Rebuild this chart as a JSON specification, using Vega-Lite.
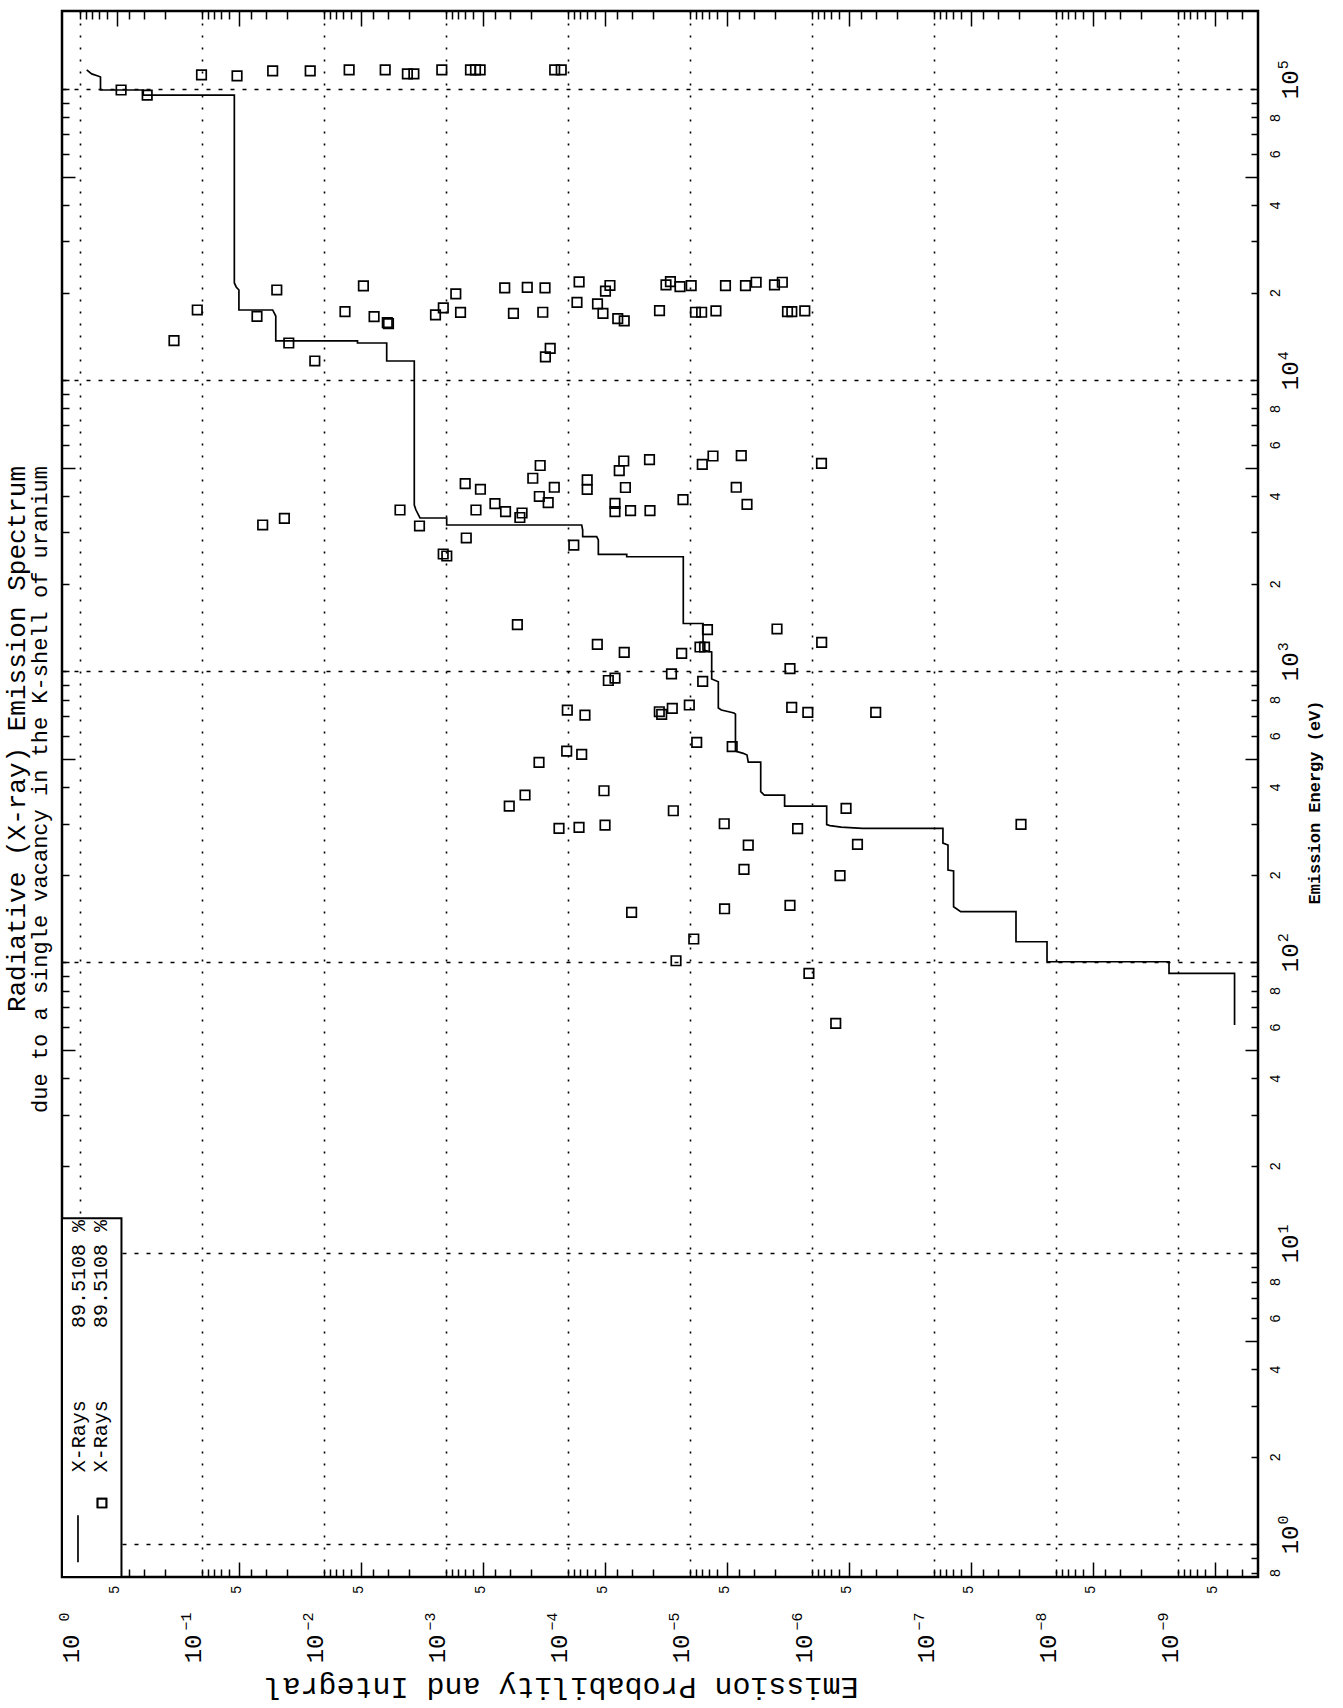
{
  "$schema": "https://vega.github.io/schema/vega-lite/v6.json",
  "autosize": {"type": "none"},
  "width": 1196,
  "height": 1566,
  "padding": {"left": 62, "top": 11, "right": 85, "bottom": 131},
  "background": "white",
  "title": {
    "text": "Radiative (X-ray) Emission Spectrum",
    "subtitle": "due to a single vacancy in the K-shell of uranium",
    "orient": "left",
    "anchor": "middle",
    "align": "right",
    "dx": 328,
    "font": "Liberation Mono",
    "fontSize": 26,
    "fontWeight": "normal",
    "color": "black",
    "subtitleFont": "Liberation Mono",
    "subtitleFontSize": 22,
    "subtitleColor": "black",
    "subtitlePadding": 0,
    "offset": 6
  },
  "config": {
    "view": {"stroke": "black", "strokeWidth": 2.5},
    "axis": {
      "labelFont": "Liberation Mono",
      "titleFont": "Liberation Mono",
      "labelColor": "black",
      "titleColor": "black",
      "tickColor": "black",
      "gridColor": "black",
      "labelFlush": false,
      "labelOverlap": false,
      "labelBound": false
    },
    "text": {"font": "Liberation Mono"}
  },
  "datasets": {
    "line": [
      {"i":1,"p":0.881,"E":116500},{"i":2,"p":0.802,"E":112900},{"i":3,"p":0.712,"E":111100},{"i":4,"p":0.679,"E":110200},
      {"i":5,"p":0.679,"E":99400},{"i":6,"p":0.3029,"E":99400},{"i":7,"p":0.3029,"E":95500},{"i":8,"p":0.0543,"E":95500},
      {"i":9,"p":0.0543,"E":21600},{"i":10,"p":0.0524,"E":20920},{"i":11,"p":0.0498,"E":20430},{"i":12,"p":0.0498,"E":17440},
      {"i":13,"p":0.02634,"E":17440},{"i":14,"p":0.02484,"E":16630},{"i":15,"p":0.02484,"E":13650},{"i":16,"p":0.005314,"E":13650},
      {"i":17,"p":0.005314,"E":13430},{"i":18,"p":0.003062,"E":13430},{"i":19,"p":0.003062,"E":11650},{"i":20,"p":0.001819,"E":11650},
      {"i":21,"p":0.001819,"E":3728},{"i":22,"p":0.001762,"E":3583},{"i":23,"p":0.001633,"E":3364},{"i":24,"p":0.000987,"E":3364},
      {"i":25,"p":0.000987,"E":3183},{"i":26,"p":7.72e-5,"E":3183},{"i":27,"p":7.58e-5,"E":3059},{"i":28,"p":7.58e-5,"E":2901},
      {"i":29,"p":5.82e-5,"E":2901},{"i":30,"p":5.64e-5,"E":2827},{"i":31,"p":5.64e-5,"E":2524},{"i":32,"p":3.30e-5,"E":2524},
      {"i":33,"p":3.30e-5,"E":2476},{"i":34,"p":1.135e-5,"E":2476},{"i":35,"p":1.135e-5,"E":1460},{"i":36,"p":7.82e-6,"E":1460},
      {"i":37,"p":7.82e-6,"E":1184},{"i":38,"p":6.86e-6,"E":1168},{"i":39,"p":6.64e-6,"E":1165},{"i":40,"p":6.64e-6,"E":941},
      {"i":41,"p":5.86e-6,"E":921},{"i":42,"p":5.86e-6,"E":748},{"i":43,"p":5.53e-6,"E":736},{"i":44,"p":4.36e-6,"E":719},
      {"i":45,"p":4.24e-6,"E":713},{"i":46,"p":4.24e-6,"E":532},{"i":47,"p":3.66e-6,"E":522.7},{"i":48,"p":3.41e-6,"E":515.8},
      {"i":49,"p":3.33e-6,"E":487.9},{"i":50,"p":2.633e-6,"E":487.9},{"i":51,"p":2.633e-6,"E":385.8},{"i":52,"p":2.46e-6,"E":375.8},
      {"i":53,"p":1.677e-6,"E":375.8},{"i":54,"p":1.677e-6,"E":344.4},{"i":55,"p":7.58e-7,"E":344.4},{"i":56,"p":7.58e-7,"E":297.5},
      {"i":57,"p":7.12e-7,"E":295.2},{"i":58,"p":5.78e-7,"E":291.6},{"i":59,"p":3.855e-7,"E":288.7},{"i":60,"p":8.45e-8,"E":288.7},
      {"i":61,"p":8.45e-8,"E":257},{"i":62,"p":7.68e-8,"E":253},{"i":63,"p":7.68e-8,"E":207.6},{"i":64,"p":6.91e-8,"E":206},
      {"i":65,"p":6.91e-8,"E":155.3},{"i":66,"p":6.04e-8,"E":149.3},{"i":67,"p":2.128e-8,"E":149.3},{"i":68,"p":2.128e-8,"E":117.7},
      {"i":69,"p":1.185e-8,"E":117.7},{"i":70,"p":1.185e-8,"E":100.5},{"i":71,"p":1.185e-9,"E":100.5},{"i":72,"p":1.185e-9,"E":91.7},
      {"i":73,"p":3.44e-10,"E":91.7},{"i":74,"p":3.44e-10,"E":60.9}
    ],
    "pts": [
      {"p":0.4603,"E":99400},{"p":0.2813,"E":95500},{"p":0.1009,"E":112000},{"p":0.0516,"E":111100},{"p":0.02634,"E":115600},
      {"p":0.01297,"E":115600},{"p":0.00622,"E":116500},{"p":0.00315,"E":116500},{"p":0.002072,"E":112900},{"p":0.001833,"E":112900},
      {"p":0.001082,"E":116500},{"p":0.000630,"E":116500},{"p":0.000573,"E":116500},{"p":0.000525,"E":116500},{"p":0.0001285,"E":116500},
      {"p":0.0001136,"E":116500},
      {"p":0.1696,"E":13680},{"p":0.1093,"E":17440},{"p":0.02437,"E":20430},{"p":0.03541,"E":16570},{"p":0.01943,"E":13430},
      {"p":0.01189,"E":11650},{"p":0.004753,"E":21090},{"p":0.006728,"E":17210},{"p":0.003885,"E":16550},{"p":0.003028,"E":15770},
      {"p":0.00296,"E":15650},{"p":0.000831,"E":19800},{"p":0.001219,"E":16770},{"p":0.001052,"E":17720},{"p":0.00076,"E":17100},
      {"p":0.00033,"E":20760},{"p":0.0002157,"E":20870},{"p":0.0001543,"E":20760},{"p":0.00028,"E":16990},{"p":0.0001609,"E":17130},
      {"p":0.0001399,"E":12880},{"p":0.0001532,"E":12030},{"p":8.11e-5,"E":21770},{"p":8.44e-5,"E":18510},{"p":4.53e-5,"E":21170},
      {"p":4.93e-5,"E":20240},{"p":5.73e-5,"E":18290},{"p":5.17e-5,"E":16990},{"p":3.91e-5,"E":16280},{"p":3.46e-5,"E":15990},
      {"p":1.447e-5,"E":21820},{"p":1.573e-5,"E":21260},{"p":1.208e-5,"E":20970},{"p":9.78e-6,"E":21140},{"p":1.778e-5,"E":17350},
      {"p":9.02e-6,"E":17130},{"p":8.03e-6,"E":17130},{"p":6.13e-6,"E":17310},{"p":5.12e-6,"E":21140},{"p":3.51e-6,"E":21140},
      {"p":2.87e-6,"E":21720},{"p":2.03e-6,"E":21260},{"p":1.751e-6,"E":21720},{"p":1.588e-6,"E":17210},{"p":1.464e-6,"E":17210},
      {"p":1.146e-6,"E":17310},
      {"p":0.0318,"E":3183},{"p":0.02112,"E":3356},{"p":0.002382,"E":3583},{"p":0.001649,"E":3158},{"p":0.000696,"E":4414},
      {"p":0.000522,"E":4222},{"p":0.000568,"E":3583},{"p":0.000397,"E":3766},{"p":0.000325,"E":3536},{"p":0.000238,"E":3499},
      {"p":0.000248,"E":3377},{"p":0.000682,"E":2872},{"p":0.001054,"E":2530},{"p":0.000985,"E":2490},{"p":0.000169,"E":5096},
      {"p":0.0001943,"E":4606},{"p":0.0001295,"E":4289},{"p":0.0001718,"E":3988},{"p":0.0001453,"E":3797},{"p":8.96e-5,"E":2716},
      {"p":3.49e-5,"E":5281},{"p":3.80e-5,"E":4890},{"p":2.148e-5,"E":5335},{"p":6.96e-5,"E":4545},{"p":6.96e-5,"E":4215},
      {"p":3.385e-5,"E":4281},{"p":4.12e-5,"E":3779},{"p":4.12e-5,"E":3536},{"p":3.07e-5,"E":3568},{"p":2.128e-5,"E":3568},
      {"p":1.141e-5,"E":3890},{"p":6.48e-6,"E":5494},{"p":7.93e-6,"E":5144},{"p":3.80e-6,"E":5506},{"p":4.18e-6,"E":4289},
      {"p":3.41e-6,"E":3749},{"p":8.36e-7,"E":5185},
      {"p":0.00026,"E":1446},{"p":5.75e-5,"E":1238},{"p":3.46e-5,"E":1162},{"p":1.17e-5,"E":1153},{"p":7.19e-6,"E":1390},
      {"p":8.28e-6,"E":1212},{"p":7.60e-6,"E":1212},{"p":1.936e-6,"E":1398},{"p":8.33e-7,"E":1258},{"p":1.515e-6,"E":1021},
      {"p":1.418e-5,"E":980},{"p":4.67e-5,"E":930},{"p":4.12e-5,"E":948},{"p":7.87e-6,"E":923},{"p":0.0001013,"E":736},
      {"p":7.26e-5,"E":707.6},{"p":1.785e-5,"E":726.4},{"p":1.706e-5,"E":711.5},{"p":1.397e-5,"E":746},{"p":1.013e-5,"E":766},
      {"p":1.467e-6,"E":752},{"p":1.082e-6,"E":723},{"p":3.005e-7,"E":723},{"p":8.81e-6,"E":570},{"p":4.51e-6,"E":550.8},
      {"p":0.0001025,"E":532},{"p":7.72e-5,"E":518.5},{"p":0.0001728,"E":486.8},{"p":0.000225,"E":375.8},{"p":0.000303,"E":344.4},
      {"p":5.07e-5,"E":388.8},{"p":1.370e-5,"E":331.9},{"p":0.0001185,"E":288.7},{"p":8.12e-5,"E":291},{"p":4.97e-5,"E":296.3},
      {"p":5.24e-6,"E":299.4},{"p":1.312e-6,"E":288.3},{"p":5.26e-7,"E":338.2},{"p":4.24e-7,"E":254.4},{"p":3.33e-6,"E":253},
      {"p":3.61e-6,"E":208.7},{"p":5.89e-7,"E":198.5},{"p":3.01e-5,"E":148.5},{"p":5.21e-6,"E":152.8},{"p":1.515e-6,"E":157},
      {"p":1.936e-8,"E":297.8},{"p":1.06e-6,"E":91.7},{"p":6.39e-7,"E":61.7},{"p":1.302e-5,"E":101.3},{"p":9.31e-6,"E":120.3}
    ],
    "legbox": [{"p": 1.404, "p2": 0.457, "E": 0.773, "E2": 13.22}],
    "legrule": [{"p": 1.0385, "E": 1.261, "E2": 0.869}],
    "legtext": [
      {"p": 1.019, "E": 1.772, "t": "X-Rays"},
      {"p": 1.019, "E": 5.54, "t": "89.5108 %"},
      {"p": 0.6666, "E": 1.772, "t": "X-Rays"},
      {"p": 0.6666, "E": 5.54, "t": "89.5108 %"}
    ],
    "legsym": [{"p": 0.6603, "E": 1.388}]
  },
  "resolve": {"axis": {"x": "independent", "y": "independent"}},
  "layer": [
    {
      "data": {"name": "line"},
      "mark": {"type": "line", "stroke": "black", "strokeWidth": 1.7},
      "encoding": {
        "x": {"field": "p", "type": "quantitative",
          "scale": {"type": "log", "domain": [2.21e-10, 1.404], "reverse": true, "nice": false},
          "axis": {"orient": "bottom", "values": [1, 0.1, 0.01, 0.001, 0.0001, 1e-5, 1e-6, 1e-7, 1e-8, 1e-9],
            "labelExpr": "'10'",
            "ticks": false, "domain": false, "grid": true, "gridDash": [2, 10], "gridWidth": 1.6, "gridOpacity": 1,
            "labelAngle": 270, "labelAlign": "right", "labelBaseline": "middle", "labelPadding": 57, "labelFontSize": 24, "labelOffset": -8,
            "title": "Emission Probability and Integral", "titleAngle": 180, "titleX": 499, "titleY": 109,
            "titleAlign": "center", "titleBaseline": "middle", "titleFontSize": 30, "titleFontWeight": "normal"}},
        "y": {"field": "E", "type": "quantitative",
          "scale": {"type": "log", "domain": [0.773, 185700], "nice": false},
          "axis": {"orient": "right", "values": [1, 10, 100, 1000, 10000, 100000],
            "labelExpr": "'10'",
            "ticks": false, "domain": false, "grid": true, "gridDash": [4, 8], "gridWidth": 1.6, "gridOpacity": 1,
            "labelAngle": 270, "labelAlign": "center", "labelBaseline": "middle", "labelPadding": 32, "labelFontSize": 24, "labelOffset": -5,
            "title": "Emission Energy (eV)", "titleAngle": 270, "titleX": 56, "titleY": 791,
            "titleAlign": "center", "titleBaseline": "middle", "titleFontSize": 17, "titleFontWeight": "bold"}},
        "order": {"field": "i", "type": "quantitative"}
      }
    },
    {
      "data": {"name": "pts"},
      "mark": {"type": "point", "shape": "square", "size": 90, "filled": false, "stroke": "black", "strokeWidth": 1.7, "opacity": 1},
      "encoding": {
        "x": {"field": "p", "type": "quantitative",
          "scale": {"type": "log", "domain": [2.21e-10, 1.404], "reverse": true, "nice": false},
          "axis": {"orient": "bottom", "values": [0.5, 0.05, 0.005, 0.0005, 5e-5, 5e-6, 5e-7, 5e-8, 5e-9, 5e-10],
            "labelExpr": "'5'", "ticks": false, "domain": false, "grid": false,
            "labelAngle": 270, "labelAlign": "right", "labelBaseline": "middle", "labelPadding": 8, "labelFontSize": 14, "labelOffset": -2, "title": null}},
        "y": {"field": "E", "type": "quantitative",
          "scale": {"type": "log", "domain": [0.773, 185700], "nice": false},
          "axis": {"orient": "right", "values": [0.8, 2, 4, 6, 8, 20, 40, 60, 80, 200, 400, 600, 800, 2000, 4000, 6000, 8000, 20000, 40000, 60000, 80000],
            "labelExpr": "datum.value < 1 ? '8' : substring(toString(datum.value), 0, 1)",
            "ticks": false, "domain": false, "grid": false,
            "labelAngle": 270, "labelAlign": "center", "labelBaseline": "middle", "labelPadding": 17, "labelFontSize": 14, "title": null}}
      }
    },
    {
      "data": {"name": "legbox"},
      "mark": {"type": "rect", "fill": "white", "stroke": "black", "strokeWidth": 2},
      "encoding": {
        "x": {"field": "p", "type": "quantitative",
          "scale": {"type": "log", "domain": [2.21e-10, 1.404], "reverse": true, "nice": false},
          "axis": {"orient": "bottom", "labels": false, "domain": false, "grid": false, "ticks": true, "tickSize": -8, "tickWidth": 1.5, "title": null,
            "values": [1,0.9,0.8,0.7,0.6,0.4,0.3,0.2,0.1,0.09,0.08,0.07,0.06,0.04,0.03,0.02,0.01,0.009,0.008,0.007,0.006,0.004,0.003,0.002,0.001,9e-4,8e-4,7e-4,6e-4,4e-4,3e-4,2e-4,1e-4,9e-5,8e-5,7e-5,6e-5,4e-5,3e-5,2e-5,1e-5,9e-6,8e-6,7e-6,6e-6,4e-6,3e-6,2e-6,1e-6,9e-7,8e-7,7e-7,6e-7,4e-7,3e-7,2e-7,1e-7,9e-8,8e-8,7e-8,6e-8,4e-8,3e-8,2e-8,1e-8,9e-9,8e-9,7e-9,6e-9,4e-9,3e-9,2e-9,1e-9,9e-10,8e-10,7e-10,6e-10,4e-10,3e-10]}},
        "x2": {"field": "p2"},
        "y": {"field": "E", "type": "quantitative",
          "scale": {"type": "log", "domain": [0.773, 185700], "nice": false},
          "axis": {"orient": "right", "labels": false, "domain": false, "grid": false, "ticks": true, "tickSize": -7, "tickWidth": 1.5, "title": null,
            "values": [0.8,0.9,1,2,3,4,6,7,8,9,10,20,30,40,60,70,80,90,100,200,300,400,600,700,800,900,1000,2000,3000,4000,6000,7000,8000,9000,10000,20000,30000,40000,60000,70000,80000,90000,100000]}},
        "y2": {"field": "E2"}
      }
    },
    {
      "data": {"name": "legrule"},
      "mark": {"type": "rule", "stroke": "black", "strokeWidth": 1.7},
      "encoding": {
        "x": {"field": "p", "type": "quantitative",
          "scale": {"type": "log", "domain": [2.21e-10, 1.404], "reverse": true, "nice": false},
          "axis": {"orient": "bottom", "labels": false, "domain": false, "grid": false, "ticks": true, "tickSize": -15, "tickWidth": 1.5, "title": null,
            "values": [0.5, 0.05, 0.005, 0.0005, 5e-5, 5e-6, 5e-7, 5e-8, 5e-9, 5e-10]}},
        "y": {"field": "E", "type": "quantitative",
          "scale": {"type": "log", "domain": [0.773, 185700], "nice": false},
          "axis": {"orient": "right", "labels": false, "domain": false, "grid": false, "ticks": true, "tickSize": -13, "tickWidth": 1.5, "title": null,
            "values": [5, 50, 500, 5000, 50000]}},
        "y2": {"field": "E2"}
      }
    },
    {
      "data": {"name": "legtext"},
      "mark": {"type": "text", "angle": 270, "align": "left", "baseline": "middle", "fontSize": 20, "font": "Liberation Mono", "color": "black"},
      "encoding": {
        "x": {"field": "p", "type": "quantitative",
          "scale": {"type": "log", "domain": [2.21e-10, 1.404], "reverse": true, "nice": false},
          "axis": {"orient": "top", "labels": false, "domain": false, "grid": false, "ticks": true, "tickSize": -8, "tickWidth": 1.5, "title": null,
            "values": [1,0.9,0.8,0.7,0.6,0.4,0.3,0.2,0.1,0.09,0.08,0.07,0.06,0.04,0.03,0.02,0.01,0.009,0.008,0.007,0.006,0.004,0.003,0.002,0.001,9e-4,8e-4,7e-4,6e-4,4e-4,3e-4,2e-4,1e-4,9e-5,8e-5,7e-5,6e-5,4e-5,3e-5,2e-5,1e-5,9e-6,8e-6,7e-6,6e-6,4e-6,3e-6,2e-6,1e-6,9e-7,8e-7,7e-7,6e-7,4e-7,3e-7,2e-7,1e-7,9e-8,8e-8,7e-8,6e-8,4e-8,3e-8,2e-8,1e-8,9e-9,8e-9,7e-9,6e-9,4e-9,3e-9,2e-9,1e-9,9e-10,8e-10,7e-10,6e-10,4e-10,3e-10]}},
        "y": {"field": "E", "type": "quantitative",
          "scale": {"type": "log", "domain": [0.773, 185700], "nice": false},
          "axis": {"orient": "left", "labels": false, "domain": false, "grid": false, "ticks": true, "tickSize": -7, "tickWidth": 1.5, "title": null,
            "values": [0.8,0.9,1,2,3,4,6,7,8,9,10,20,30,40,60,70,80,90,100,200,300,400,600,700,800,900,1000,2000,3000,4000,6000,7000,8000,9000,10000,20000,30000,40000,60000,70000,80000,90000,100000]}},
        "text": {"field": "t", "type": "nominal"}
      }
    },
    {
      "data": {"name": "legsym"},
      "mark": {"type": "point", "shape": "square", "size": 80, "filled": false, "stroke": "black", "strokeWidth": 1.7, "opacity": 1},
      "encoding": {
        "x": {"field": "p", "type": "quantitative",
          "scale": {"type": "log", "domain": [2.21e-10, 1.404], "reverse": true, "nice": false},
          "axis": {"orient": "top", "labels": false, "domain": false, "grid": false, "ticks": true, "tickSize": -15, "tickWidth": 1.5, "title": null,
            "values": [0.5, 0.05, 0.005, 0.0005, 5e-5, 5e-6, 5e-7, 5e-8, 5e-9, 5e-10]}},
        "y": {"field": "E", "type": "quantitative",
          "scale": {"type": "log", "domain": [0.773, 185700], "nice": false},
          "axis": {"orient": "left", "labels": false, "domain": false, "grid": false, "ticks": true, "tickSize": -13, "tickWidth": 1.5, "title": null,
            "values": [5, 50, 500, 5000, 50000]}}
      }
    },
    {
      "data": {"name": "legsym"},
      "mark": {"type": "point", "shape": "square", "size": 80, "filled": false, "stroke": "black", "strokeWidth": 1.7, "opacity": 1},
      "encoding": {
        "x": {"field": "p", "type": "quantitative",
          "scale": {"type": "log", "domain": [2.21e-10, 1.404], "reverse": true, "nice": false},
          "axis": {"orient": "bottom", "values": [1, 0.1, 0.01, 0.001, 0.0001, 1e-5, 1e-6, 1e-7, 1e-8, 1e-9],
            "labelExpr": "['0','−1','−2','−3','−4','−5','−6','−7','−8','−9'][round(-log(datum.value)/LN10)]",
            "ticks": false, "domain": false, "grid": false,
            "labelAngle": 270, "labelAlign": "right", "labelBaseline": "middle", "labelPadding": 35, "labelFontSize": 15, "labelOffset": -16, "title": null}},
        "y": {"field": "E", "type": "quantitative",
          "scale": {"type": "log", "domain": [0.773, 185700], "nice": false},
          "axis": {"orient": "right", "values": [1, 10, 100, 1000, 10000, 100000],
            "labelExpr": "['0','1','2','3','4','5'][round(log(datum.value)/LN10)]",
            "ticks": false, "domain": false, "grid": false,
            "labelAngle": 270, "labelAlign": "center", "labelBaseline": "middle", "labelPadding": 24, "labelFontSize": 15, "labelOffset": -25, "title": null}}
      }
    }
  ]
}
